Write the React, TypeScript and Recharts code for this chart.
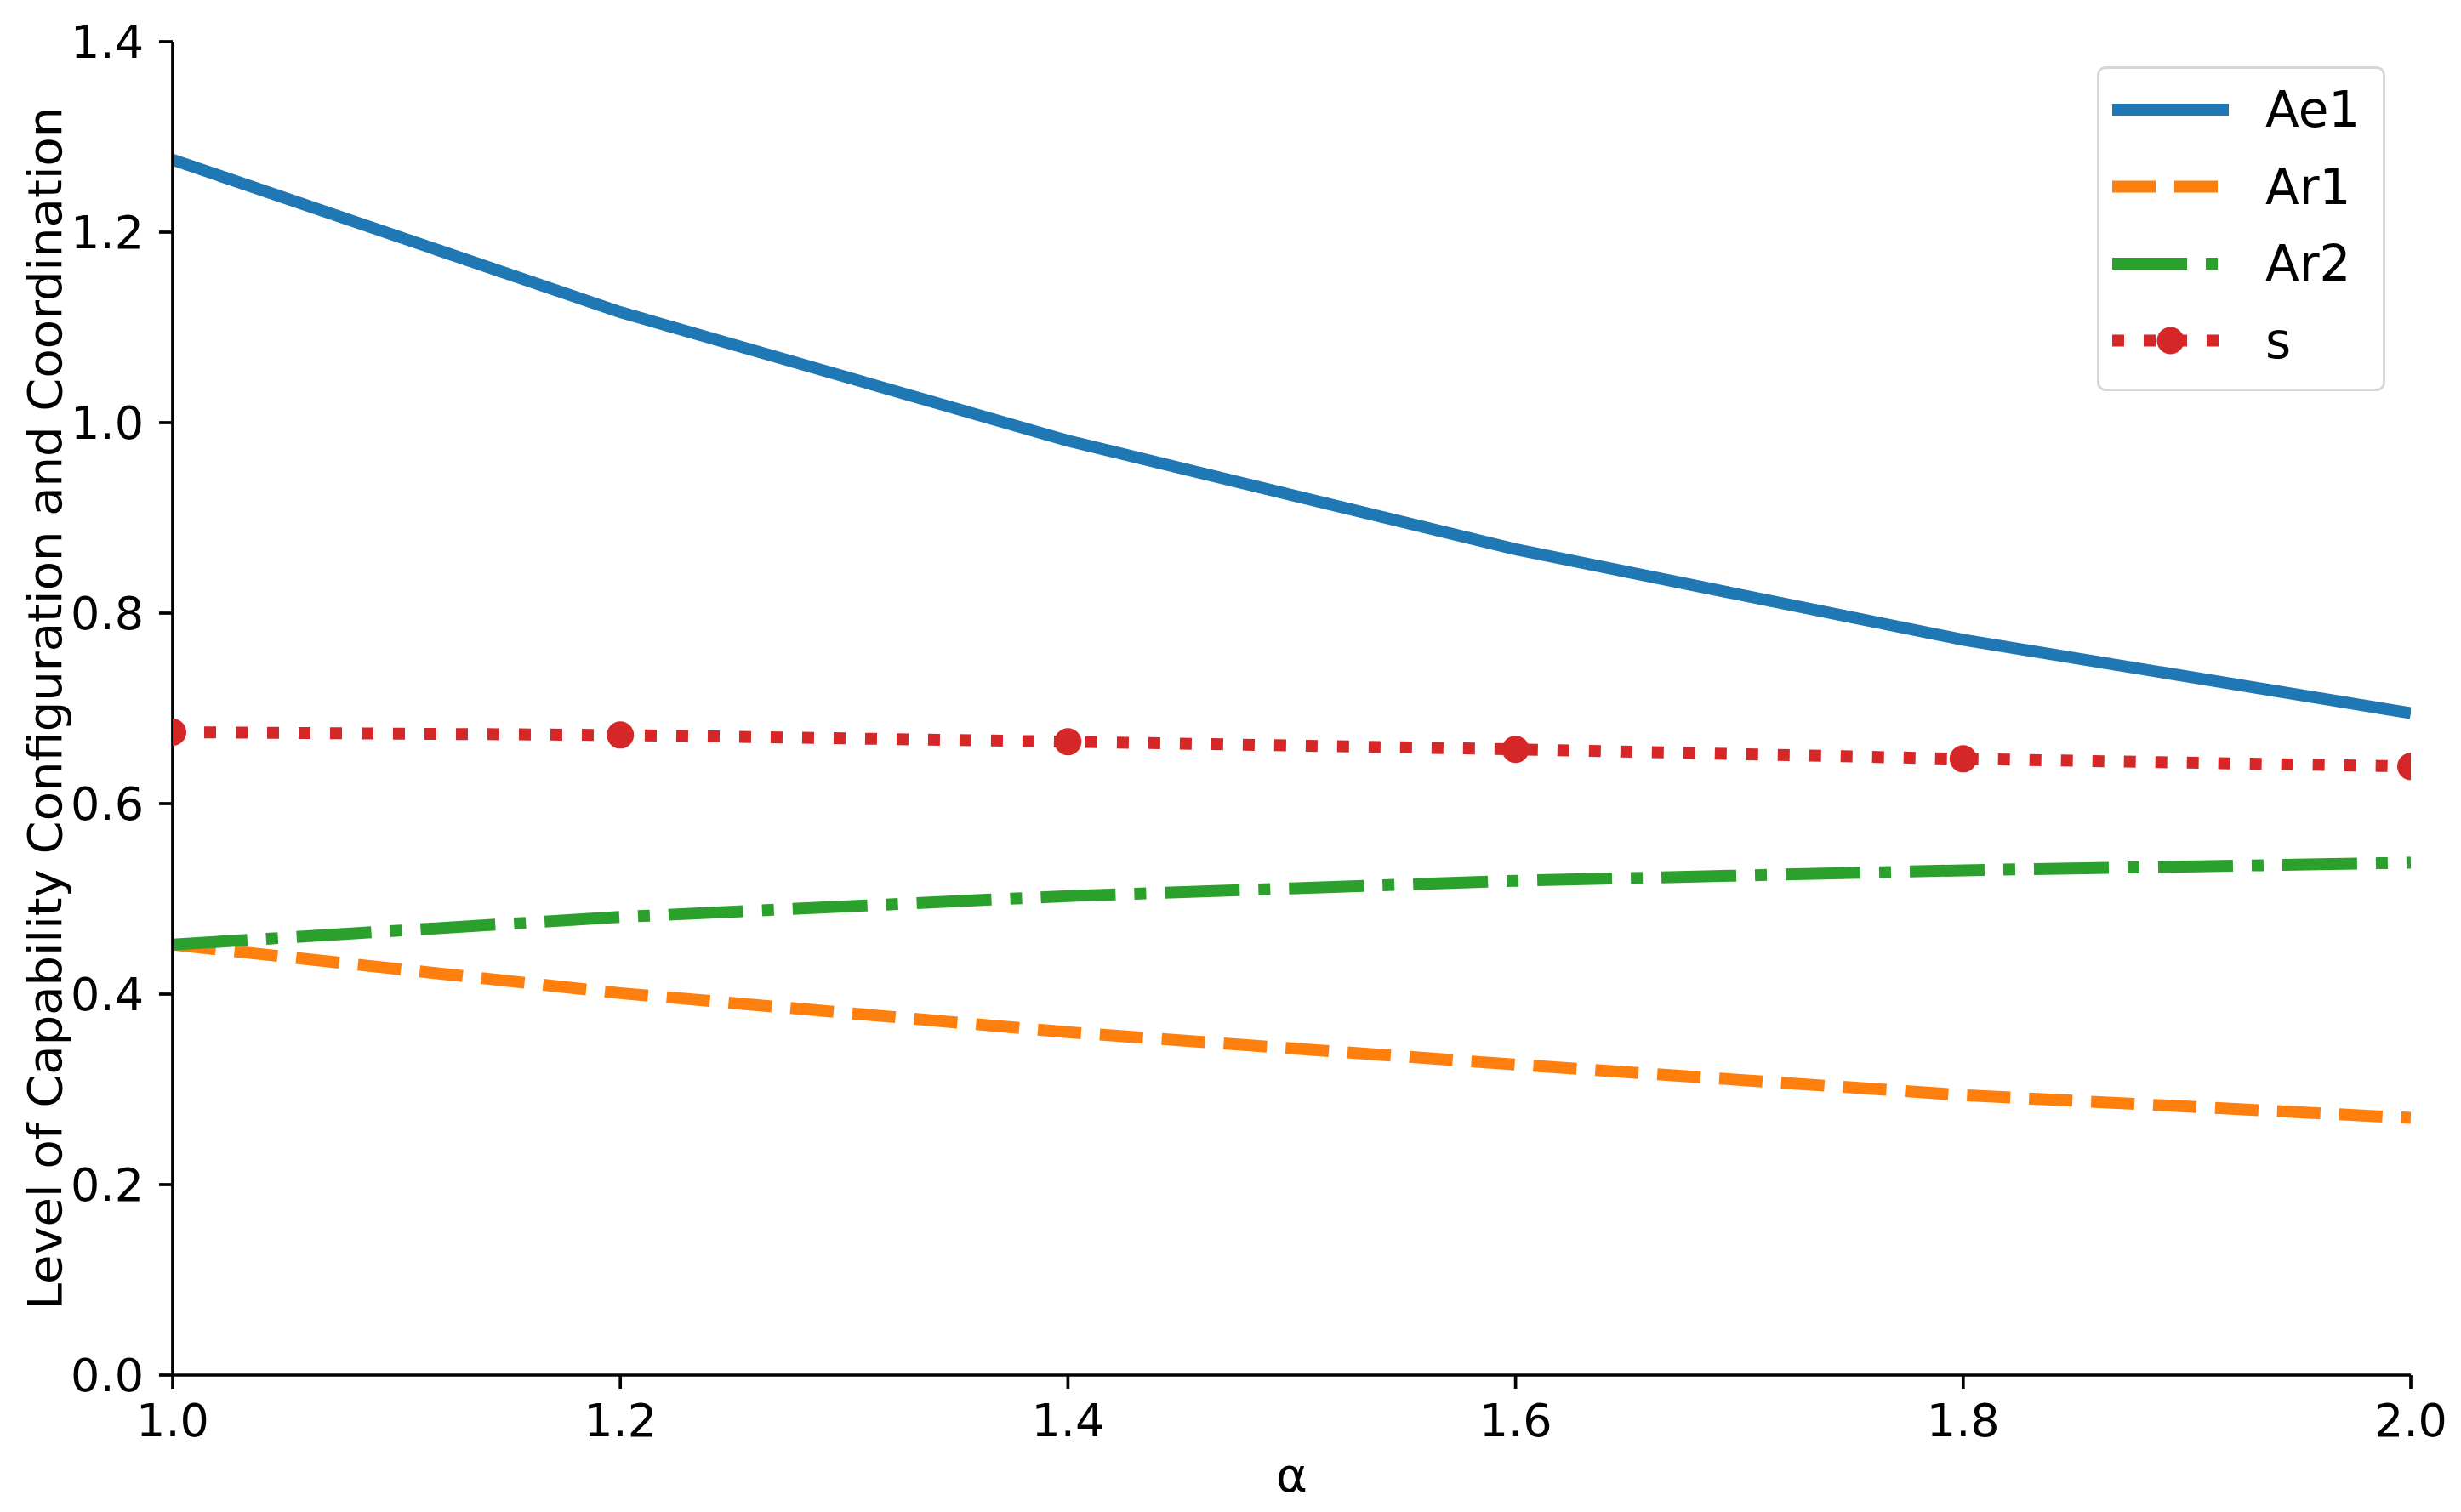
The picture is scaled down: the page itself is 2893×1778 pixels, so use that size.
import React from 'react';
import { LineChart, Line, XAxis, YAxis, Legend, Label } from 'recharts';

const alphaValues = [1.0, 1.2, 1.4, 1.6, 1.8, 2.0];
const ae1Values = [1.276, 1.116, 0.981, 0.867, 0.772, 0.695];
const ar1Values = [0.452, 0.401, 0.36, 0.326, 0.294, 0.27];
const ar2Values = [0.452, 0.481, 0.503, 0.519, 0.53, 0.538];
const sValues = [0.675, 0.672, 0.665, 0.657, 0.647, 0.639];

const xTicks = [1.0, 1.2, 1.4, 1.6, 1.8, 2.0];
const yTicks = [0, 0.2, 0.4, 0.6, 0.8, 1.0, 1.2, 1.4];

const xLabel = 'α';
const yLabel = 'Level of Capability Configuration and Coordination';

const data = alphaValues.map((a, i) => ({
  alpha: a,
  Ae1: ae1Values[i],
  Ar1: ar1Values[i],
  Ar2: ar2Values[i],
  s: sValues[i],
}));

const LW = 14;
const series = [
  { key: 'Ae1', color: '#1f77b4', dash: undefined as string | undefined, marker: false },
  { key: 'Ar1', color: '#ff7f0e', dash: '51 22', marker: false },
  { key: 'Ar2', color: '#2ca02c', dash: '88 22 14 22', marker: false },
  { key: 's', color: '#d62728', dash: '14 23', marker: true },
];

const FONT = 'DejaVu Sans';

const LegendBox = () => (
  <div
    style={{
      width: 339,
      height: 382,
      boxSizing: 'border-box',
      border: '3px solid #d6d6d6',
      borderRadius: 10,
      background: 'rgba(255,255,255,0.8)',
      position: 'relative',
    }}
  >
    <svg width={333} height={376} style={{ position: 'absolute', left: 0, top: 0 }}>
      {series.map((s, i) => {
        const cy = 48 + i * 90.5;
        return (
          <g key={s.key}>
            <line
              x1={15}
              x2={152}
              y1={cy}
              y2={cy}
              stroke={s.color}
              strokeWidth={LW}
              strokeDasharray={s.dash}
            />
            {s.marker && <circle cx={83.5} cy={cy} r={16} fill={s.color} />}
            <text
              x={195}
              y={cy}
              dominantBaseline="central"
              fontFamily={FONT}
              fontSize={58}
              fill="#000"
            >
              {s.key}
            </text>
          </g>
        );
      })}
    </svg>
  </div>
);

export default function App() {
  return (
    <div style={{ position: 'absolute', left: 0, top: 0, width: 2893, height: 1778, background: '#fff' }}>
      <LineChart
        width={2893}
        height={1778}
        data={data}
        margin={{ top: 49, right: 59, left: 0, bottom: 0 }}
      >
        <XAxis
          dataKey="alpha"
          type="number"
          domain={[1, 2]}
          ticks={xTicks}
          interval={0}
          allowDataOverflow
          height={161}
          tickFormatter={(v: number) => v.toFixed(1)}
          tick={{ fill: '#000', fontSize: 54, fontFamily: FONT }}
          tickLine={{ stroke: '#000', strokeWidth: 3.7 }}
          axisLine={{ stroke: '#000', strokeWidth: 3.7 }}
          tickSize={16}
          tickMargin={18}
        >
          <Label
            content={(props: any) => {
              const vb = props.viewBox || {};
              return (
                <text
                  x={vb.x + vb.width / 2}
                  y={vb.y + 117}
                  textAnchor="middle"
                  dominantBaseline="central"
                  fontFamily={FONT}
                  fontSize={56}
                  fill="#000"
                >
                  {xLabel}
                </text>
              );
            }}
          />
        </XAxis>
        <YAxis
          type="number"
          domain={[0, 1.4]}
          ticks={yTicks}
          interval={0}
          width={203}
          tickFormatter={(v: number) => v.toFixed(1)}
          tick={{ fill: '#000', fontSize: 54, fontFamily: FONT }}
          tickLine={{ stroke: '#000', strokeWidth: 3.7 }}
          axisLine={{ stroke: '#000', strokeWidth: 3.7 }}
          tickSize={16}
          tickMargin={18}
        >
          <Label
            content={(props: any) => {
              const vb = props.viewBox || {};
              const cx = vb.x + 52;
              const cy = vb.y + vb.height / 2;
              return (
                <text
                  x={cx}
                  y={cy}
                  transform={`rotate(-90 ${cx} ${cy})`}
                  textAnchor="middle"
                  dominantBaseline="central"
                  fontFamily={FONT}
                  fontSize={56}
                  fill="#000"
                >
                  {yLabel}
                </text>
              );
            }}
          />
        </YAxis>
        {series.map((s) => (
          <Line
            key={s.key}
            dataKey={s.key}
            type="linear"
            stroke={s.color}
            strokeWidth={LW}
            strokeDasharray={s.dash}
            dot={s.marker ? { r: 16, fill: s.color, stroke: 'none', strokeWidth: 0 } : false}
            activeDot={false}
            isAnimationActive={false}
          />
        ))}
        <Legend
          layout="vertical"
          align="center"
          verticalAlign="middle"
          content={() => <LegendBox />}
          wrapperStyle={{ position: 'absolute', left: 2465, top: 78, width: 339, height: 382 }}
        />
      </LineChart>
    </div>
  );
}
